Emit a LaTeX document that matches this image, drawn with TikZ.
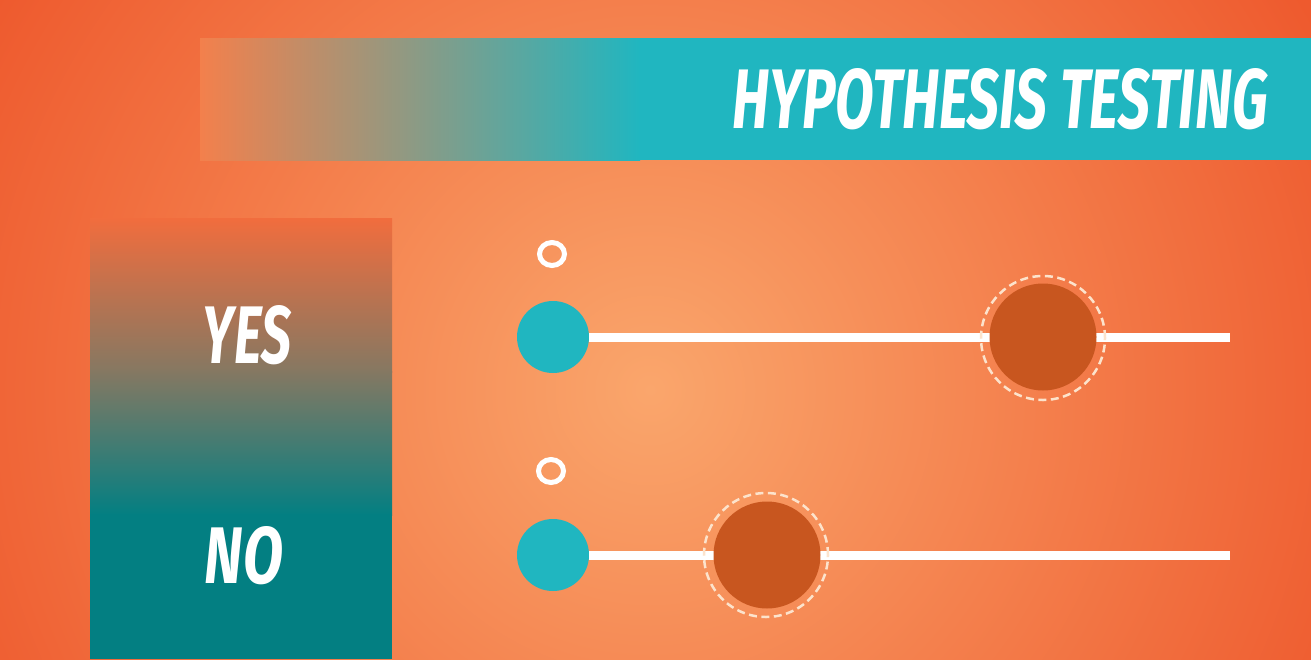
\documentclass[tikz,border=0pt]{standalone}
\usepackage{fontspec}
\setmainfont{Fira Sans}
\usepackage{graphicx}
\usetikzlibrary{fadings,shapes.geometric}
\definecolor{bgin}{HTML}{FAA66C}
\definecolor{bgout}{HTML}{EE5A2E}
\definecolor{tealc}{HTML}{20B6C0}
\definecolor{dteal}{HTML}{037F82}
\definecolor{mid}{HTML}{857862}
\definecolor{dorange}{HTML}{C8561F}
\definecolor{ringc}{HTML}{FCE3CC}
\definecolor{bandl}{HTML}{F3804C}
\tikzset{
  title/.style={text=white,inner sep=0pt,anchor=east},
  label/.style={text=white,inner sep=0pt},
  startdot/.style={circle,fill=tealc,minimum size=72pt,inner sep=0pt},
  bigdot/.style={circle,fill=dorange,minimum size=107pt,inner sep=0pt},
  ring/.style={circle,draw=ringc,line width=2.5pt,dash pattern=on 8pt off 4.5pt,minimum size=124pt,inner sep=0pt},
  small/.style={ellipse,draw=white,line width=5pt,minimum width=25pt,minimum height=23pt,inner sep=0pt},
  track/.style={white,line width=9pt}
}
\begin{document}
\begin{tikzpicture}[x=1pt,y=-1pt]
\useasboundingbox (0,0) rectangle (1311,659);
% background
\begin{scope}
\clip (0,0) rectangle (1311,659);
\fill[bgout] (0,0) rectangle (1311,659);
\shade[inner color=bgin,outer color=bgout] (650,390) circle (760);
\end{scope}
% top band
\fill[tealc] (620,38) rectangle (1311,160);
\shade[left color=bandl,right color=tealc] (200,38) rectangle (640,160);
\node[title] (title) at (1268,99) {\resizebox{535pt}{60pt}{\bfseries\itshape HYPOTHESIS TESTING}};
% left panel
\shade[top color=bgout!75!bgin,bottom color=mid] (90,218) rectangle (392,372);
\shade[top color=mid,bottom color=dteal] (90,371) rectangle (392,515);
\fill[dteal] (90,514) rectangle (392,659);
\node[label] (yes) at (247,335) {\resizebox{88pt}{58pt}{\bfseries\itshape YES}};
\node[label] (no) at (244,556) {\resizebox{78pt}{57pt}{\bfseries\itshape NO}};
% rows
\coordinate (e1) at (1230,337);
\coordinate (e2) at (1230,555);
\node[startdot] (s1) at (553,337) {};
\node[startdot] (s2) at (553,555) {};
\draw[track] (s1.east) -- (e1);
\draw[track] (s2.east) -- (e2);
\node[bigdot] (b1) at (1043,337) {};
\node[ring] (r1) at (1043,338) {};
\node[bigdot] (b2) at (767,555) {};
\node[ring] (r2) at (766,555) {};
\node[small] (o1) at (552,254) {};
\node[small] (o2) at (551,471) {};
\end{tikzpicture}
\end{document}
